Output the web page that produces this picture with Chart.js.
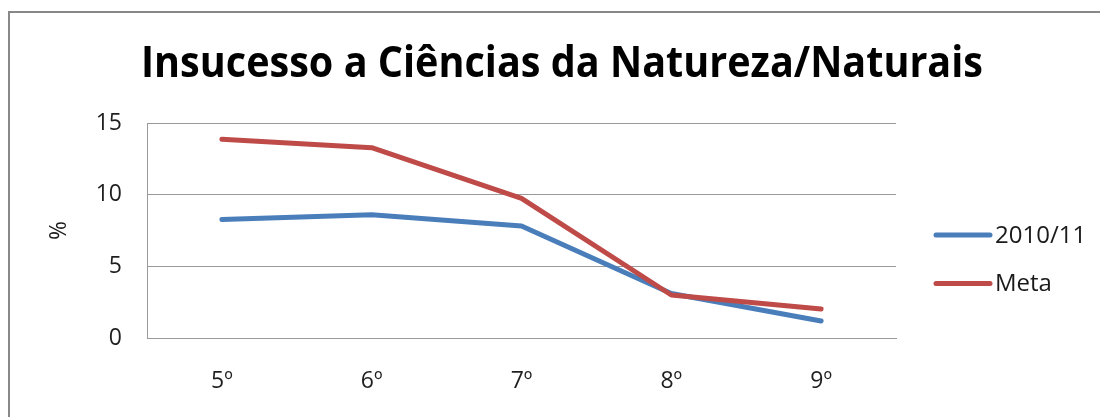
<!DOCTYPE html>
<html>
<head>
<meta charset="utf-8">
<script src="https://cdn.jsdelivr.net/npm/chart.js@4"></script>
<style>
  html, body { margin: 0; padding: 0; background: #ffffff; }
  #wrap { position: relative; width: 1100px; height: 417px; overflow: hidden; background: #ffffff; }
  #chart { position: absolute; left: 0; top: 0; }
  /* outer frame of the chart object (left and top edges) */
  #frame { position: absolute; left: 8px; top: 11px; width: 1200px; height: 600px;
           border-left: 2px solid #888888; border-top: 2px solid #888888; pointer-events: none; }
</style>
</head>
<body>
<div id="wrap">
  <canvas id="chart" width="1100" height="417"></canvas>
  <div id="frame"></div>
</div>
<script>
// Chart text
const chartTitle = 'Insucesso a Ciências da Natureza/Naturais';
const yAxisTitle = '%';

// Categories (school years)
const grades = ['5º', '6º', '7º', '8º', '9º'];

// Series values (%)
const series201011 = [8.26, 8.6, 7.82, 3.1, 1.19];
const seriesMeta = [13.87, 13.28, 9.74, 3.0, 2.02];

// Y axis tick labels
const yTicks = [0, 5, 10, 15];

const seriesLabels = ['2010/11', 'Meta'];
const seriesColors = ['#4A7EBB', '#BE4B48'];

const FONT = '"Open Sans", "DejaVu Sans", sans-serif';

// Title drawn centred above the plot, compressed to Calibri-like width
const titlePlugin = {
  id: 'wideTitle',
  afterDraw(chart) {
    const ctx = chart.ctx;
    ctx.save();
    ctx.fillStyle = '#000000';
    ctx.font = 'bold 43px ' + FONT;
    ctx.textAlign = 'center';
    ctx.textBaseline = 'alphabetic';
    ctx.fillText(chartTitle, 562, 77, 842);
    ctx.restore();
  }
};

// Legend at the right of the plot: a short line sample followed by the label
const sideLegendPlugin = {
  id: 'sideLegend',
  afterDraw(chart) {
    const ctx = chart.ctx;
    const area = chart.chartArea;
    const x0 = area.right + 40;
    const lineLen = 54;
    const rowGap = 48.6;
    const firstY = area.top + 112;
    ctx.save();
    ctx.font = '24px ' + FONT;
    ctx.textAlign = 'left';
    ctx.textBaseline = 'middle';
    chart.data.datasets.forEach((ds, i) => {
      const y = firstY + i * rowGap;
      ctx.strokeStyle = ds.borderColor;
      ctx.lineWidth = 5;
      ctx.lineCap = 'round';
      ctx.beginPath();
      ctx.moveTo(x0, y);
      ctx.lineTo(x0 + lineLen, y);
      ctx.stroke();
      ctx.fillStyle = '#1a1a1a';
      ctx.fillText(ds.label, x0 + lineLen + 5, y + 1);
    });
    ctx.restore();
  }
};

new Chart(document.getElementById('chart'), {
  type: 'line',
  data: {
    labels: grades,
    datasets: [
      {
        label: seriesLabels[0],
        data: series201011,
        borderColor: seriesColors[0],
        backgroundColor: seriesColors[0],
        borderWidth: 5,
        pointRadius: 0,
        pointHoverRadius: 0,
        tension: 0,
        borderCapStyle: 'round',
        borderJoinStyle: 'round',
        order: 2
      },
      {
        label: seriesLabels[1],
        data: seriesMeta,
        borderColor: seriesColors[1],
        backgroundColor: seriesColors[1],
        borderWidth: 5,
        pointRadius: 0,
        pointHoverRadius: 0,
        tension: 0,
        borderCapStyle: 'round',
        borderJoinStyle: 'round',
        order: 1
      }
    ]
  },
  options: {
    responsive: false,
    devicePixelRatio: 1,
    animation: false,
    events: [],
    layout: { padding: { top: 123, right: 204, bottom: 0, left: 0 } },
    plugins: {
      legend: { display: false },
      title: { display: false },
      tooltip: { enabled: false }
    },
    scales: {
      x: {
        type: 'category',
        offset: true,
        grid: { display: false, drawTicks: false },
        border: { display: true, color: '#9a9a9a', width: 1 },
        ticks: {
          color: '#1f1f1f',
          font: { family: FONT, size: 23 },
          padding: 30,
          maxRotation: 0
        },
        afterFit(scale) { scale.height = 79; }
      },
      y: {
        min: 0,
        max: 15,
        grid: { color: '#9a9a9a', lineWidth: 1, drawTicks: false },
        border: { display: true, color: '#9a9a9a', width: 1 },
        afterBuildTicks(scale) { scale.ticks = yTicks.map(v => ({ value: v })); },
        ticks: {
          color: '#1f1f1f',
          font: { family: FONT, size: 23 },
          padding: 25
        },
        title: {
          display: true,
          text: yAxisTitle,
          color: '#1a1a1a',
          font: { family: FONT, size: 23 },
          padding: { top: 46, bottom: 0 }
        },
        afterFit(scale) { scale.width = 147; }
      }
    }
  },
  plugins: [titlePlugin, sideLegendPlugin]
});
</script>
</body>
</html>
